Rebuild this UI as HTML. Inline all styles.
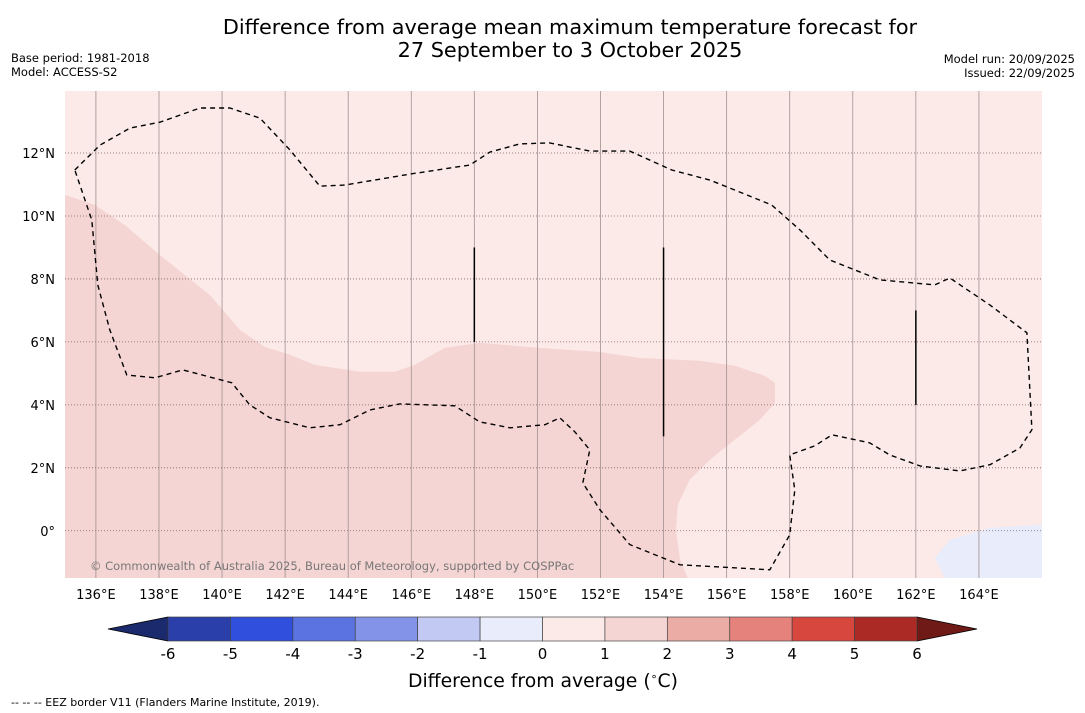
<!DOCTYPE html>
<html><head><meta charset="utf-8"><style>
body{margin:0;background:#fff;font-family:"Liberation Sans","DejaVu Sans",sans-serif;}
svg{display:block}
</style></head><body>
<svg id="chart" width="1085" height="713" xmlns="http://www.w3.org/2000/svg" font-family="DejaVu Sans, Liberation Sans, sans-serif">
<text x="570" y="34" font-size="20.8" text-anchor="middle">Difference from average mean maximum temperature forecast for</text>
<text x="570" y="57" font-size="20.8" text-anchor="middle">27 September to 3 October 2025</text>
<text x="11" y="62" font-size="11.5">Base period: 1981-2018</text>
<text x="11" y="76" font-size="11.5">Model: ACCESS-S2</text>
<text x="1075" y="63" font-size="11.5" text-anchor="end">Model run: 20/09/2025</text>
<text x="1075" y="77" font-size="11.5" text-anchor="end">Issued: 22/09/2025</text>
<g id="map"></g>
<g id="cbar"></g>
<text x="543" y="687" font-size="18.8" text-anchor="middle">Difference from average (<tspan font-size="11" dy="-7">∘</tspan><tspan dy="7">C)</tspan></text>
<text x="11" y="706" font-size="11">--  --  -- EEZ border V11 (Flanders Marine Institute, 2019).</text>
</svg>
<script>
const lonTicks=[136,138,140,142,144,146,148,150,152,154,156,158,160,162,164];
const latTicks=[0,2,4,6,8,10,12];
const warmRegion=[[135.02,10.67],[135.97,10.35],[136.92,9.71],[138.03,8.76],[139.61,7.49],[140.57,6.38],[141.36,5.84],[142.15,5.59],[142.94,5.27],[144.37,5.05],[145.48,5.05],[146.11,5.27],[147.06,5.81],[148.17,5.97],[150.08,5.81],[151.98,5.68],[153.25,5.49],[155.15,5.40],[156.26,5.24],[157.21,4.92],[157.53,4.70],[157.53,4.06],[157.05,3.52],[156.26,2.89],[155.47,2.25],[154.83,1.62],[154.45,0.83],[154.39,0.03],[154.52,-0.92],[154.77,-1.5],[135.02,-1.5]];
const coolRegion=[[162.60,-0.86],[163.08,-0.29],[164.35,0.10],[166,0.19],[166,-1.5],[162.92,-1.5]];
const contourLon=[135.33,136.13,137.08,138.03,139.30,140.25,141.20,142.15,143.10,143.89,145.96,147.86,148.49,149.44,150.39,151.66,152.93,154.26,155.47,156.42,157.43,158.32,159.27,160.86,162.60,163.08,164.35,165.52,165.68,165.30,164.35,163.39,162.13,161.17,160.54,159.34,158.80,158.00,158.16,158.00,157.37,154.52,152.93,151.98,151.44,151.66,151.19,150.71,150.24,149.13,148.17,147.38,145.64,144.69,143.74,142.79,141.52,140.88,140.31,138.76,137.87,136.98,136.44,136.06,135.87,135.33];
const contourLat=[11.46,12.25,12.79,12.98,13.43,13.43,13.11,12.10,10.95,10.98,11.33,11.62,12.03,12.29,12.32,12.06,12.06,11.46,11.14,10.76,10.35,9.56,8.60,7.97,7.81,8.03,7.17,6.29,3.21,2.63,2.10,1.90,2.06,2.41,2.79,3.05,2.70,2.41,1.30,-0.13,-1.24,-1.08,-0.44,0.67,1.52,2.57,3.14,3.59,3.37,3.27,3.46,3.97,4.03,3.84,3.37,3.27,3.59,4.00,4.70,5.11,4.86,4.95,6.38,7.81,9.87,11.46];
const eezLon=[148,154,162];
const eezLatTop=[9,9,7];
const eezLatBot=[6,3,4];
const cbarLevels=[-6,-5,-4,-3,-2,-1,0,1,2,3,4,5,6];
const cbarColors=["#2a3faa","#2f4fdc","#5a73e0","#8293e8","#c2c9f3","#e9ecfa","#fbeae8","#f5d5d3","#ebaca6","#e5827c","#d8473d","#ab2a26"];

const NS="http://www.w3.org/2000/svg";
const X0=65,X1=1042,Y0=91,Y1=578;
const lonMin=135.02,lonMax=166,latMin=-1.5,latMax=13.97;
const xs=l=>X0+(l-lonMin)/(lonMax-lonMin)*(X1-X0);
const ys=l=>Y1-(l-latMin)/(latMax-latMin)*(Y1-Y0);
function mk(tag,attrs,parent){const e=document.createElementNS(NS,tag);for(const k in attrs)e.setAttribute(k,attrs[k]);parent.appendChild(e);return e;}
const map=document.getElementById('map');
let r=mk('rect',{x:X0,y:Y0,width:X1-X0,height:Y1-Y0,fill:'#fbeae8'},map);


const pts=a=>a.map(p=>xs(p[0]).toFixed(1)+','+ys(p[1]).toFixed(1)).join(' ');
let wp=mk('polygon',{points:pts(warmRegion),fill:'#f5d5d3'},map);


let cp=mk('polygon',{points:pts(coolRegion),fill:'#e9ecfa'},map);


lonTicks.forEach(l=>{
  let g=mk('line',{x1:xs(l),x2:xs(l),y1:Y0,y2:Y1,stroke:'#a09090','stroke-width':0.8},map);
  
  
  let t=mk('text',{x:xs(l),y:599,'font-size':13,'text-anchor':'middle'},map);
  t.textContent=l+'°E';
  
  
});
latTicks.forEach(l=>{
  let g=mk('line',{x1:X0,x2:X1,y1:ys(l),y2:ys(l),stroke:'#806060','stroke-width':0.8,'stroke-dasharray':'1,2'},map);
  
  
  let t=mk('text',{x:55,y:ys(l)+5,'font-size':13,'text-anchor':'end'},map);
  t.textContent=l+'°'+(l>0?'N':'');
  
  
});
let cpts=contourLon.map((l,i)=>xs(l).toFixed(1)+','+ys(contourLat[i]).toFixed(1)).join(' ');
let pl=mk('polyline',{points:cpts,fill:'none',stroke:'#000','stroke-width':1.4,'stroke-dasharray':'5,4'},map);


eezLon.forEach((l,i)=>{
  let e=mk('line',{x1:xs(l),x2:xs(l),y1:ys(eezLatTop[i]),y2:ys(eezLatBot[i]),stroke:'#000','stroke-width':1.5},map);
  
  
});
let cr=mk('text',{x:90,y:570,'font-size':11.5,fill:'#777'},map);
cr.textContent='© Commonwealth of Australia 2025, Bureau of Meteorology, supported by COSPPac';



const cb=document.getElementById('cbar');
const CX0=168,CX1=917,CY0=617,CY1=641;
const cx=v=>CX0+(v-cbarLevels[0])/(cbarLevels[cbarLevels.length-1]-cbarLevels[0])*(CX1-CX0);
let lt=mk('polygon',{points:`${CX0},${CY0} 108,${(CY0+CY1)/2} ${CX0},${CY1}`,fill:'#1a2a6c',stroke:'#000','stroke-width':0.8},cb);


let rt=mk('polygon',{points:`${CX1},${CY0} 977,${(CY0+CY1)/2} ${CX1},${CY1}`,fill:'#6f1a16',stroke:'#000','stroke-width':0.8},cb);


cbarColors.forEach((c,i)=>{
  let b=mk('rect',{x:cx(cbarLevels[i]),y:CY0,width:cx(cbarLevels[i+1])-cx(cbarLevels[i]),height:CY1-CY0,fill:c,stroke:'#444','stroke-width':0.7},cb);
  
  
});
cbarLevels.forEach(v=>{
  let t=mk('text',{x:cx(v),y:659,'font-size':15,'text-anchor':'middle'},cb);
  t.textContent=v;
  
  
});
</script>
</body></html>
